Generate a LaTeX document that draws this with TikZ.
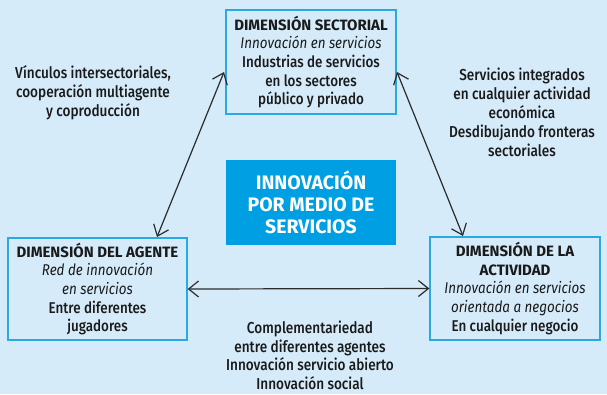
\documentclass[tikz,border=0pt]{standalone}
\usepackage{fontspec}
\usetikzlibrary{arrows.meta}
\setmainfont{Fira Sans}[FakeStretch=0.86]
\newfontfamily\medfont{Fira Sans Medium}[FakeStretch=0.86]
\newfontfamily\boldfam{Fira Sans}[FakeStretch=1.0]
\newcommand\hdr[1]{{\boldfam\bfseries\fontsize{15}{18.7}\selectfont #1}}
\newcommand\itl[1]{{\rmfamily\itshape #1}}
\definecolor{bg}{HTML}{D5EBF9}
\definecolor{boxline}{HTML}{2AA9E0}
\definecolor{centerblue}{HTML}{009EE2}
\definecolor{arrowc}{HTML}{2B2B2B}
\definecolor{txt}{HTML}{1A1A1A}
\begin{document}
\begin{tikzpicture}[x=1pt,y=-1pt,
  box/.style={draw=boxline, line width=1.3pt, fill=bg, align=center, inner sep=0pt, text=txt,
    font=\medfont\fontsize{15.6}{18.7}\selectfont},
  lbl/.style={align=center, inner sep=0pt, text=txt, font=\medfont\fontsize{15.8}{19}\selectfont},
  core/.style={fill=centerblue, align=center, inner sep=0pt, text=white,
    font=\boldfam\bfseries\fontsize{19.5}{21.7}\selectfont},
  arr/.style={{Straight Barb[length=10pt,width=16pt]}-{Straight Barb[length=10pt,width=16pt]}, line width=1.2pt, draw=arrowc}]
\fill[bg] (0,0) rectangle (607,394);
\useasboundingbox (0,0) rectangle (607,394);

\node[box, minimum width=170pt, minimum height=104pt] (sect) at (311,62)
  {\hdr{DIMENSIÓN SECTORIAL}\\ \itl{Innovación en servicios}\\ Industrias de servicios\\ en los sectores\\ público y privado};
\node[box, minimum width=179pt, minimum height=102pt] (agent) at (97.5,289)
  {\hdr{DIMENSIÓN DEL AGENTE}\\ \itl{Red de innovación}\\ \itl{en servicios}\\ Entre diferentes\\ jugadores};
\node[box, minimum width=170pt, minimum height=103pt] (act) at (515,288.5)
  {\hdr{DIMENSIÓN DE LA}\\ \hdr{ACTIVIDAD}\\ \itl{Innovación en servicios}\\ \itl{orientada a negocios}\\ En cualquier negocio};
\node[core, minimum width=170pt, minimum height=85pt] (core) at (311,202.5)
  {INNOVACIÓN\\ POR MEDIO DE\\ SERVICIOS};

\node[lbl] (tl) at (93,92.5) {Vínculos intersectoriales,\\ cooperación multiagente\\ y coproducción};
\node[lbl] (tr) at (522,112.5) {Servicios integrados\\ en cualquier actividad\\ económica\\ Desdibujando fronteras\\ sectoriales};
\node[lbl, font=\medfont\fontsize{15.8}{18.6}\selectfont] (bt) at (310,355.5) {Complementariedad\\ entre diferentes agentes\\ Innovación servicio abierto\\ Innovación social};

\coordinate (sectL) at (224,72);
\coordinate (agentT) at (157,237);
\coordinate (sectR) at (397,72);
\coordinate (actT) at (463,236);
\draw[arr] (sectL) -- (agentT);
\draw[arr] (sectR) -- (actT);
\draw[arr] (agent.east) -- (act.west);
\end{tikzpicture}
\end{document}
